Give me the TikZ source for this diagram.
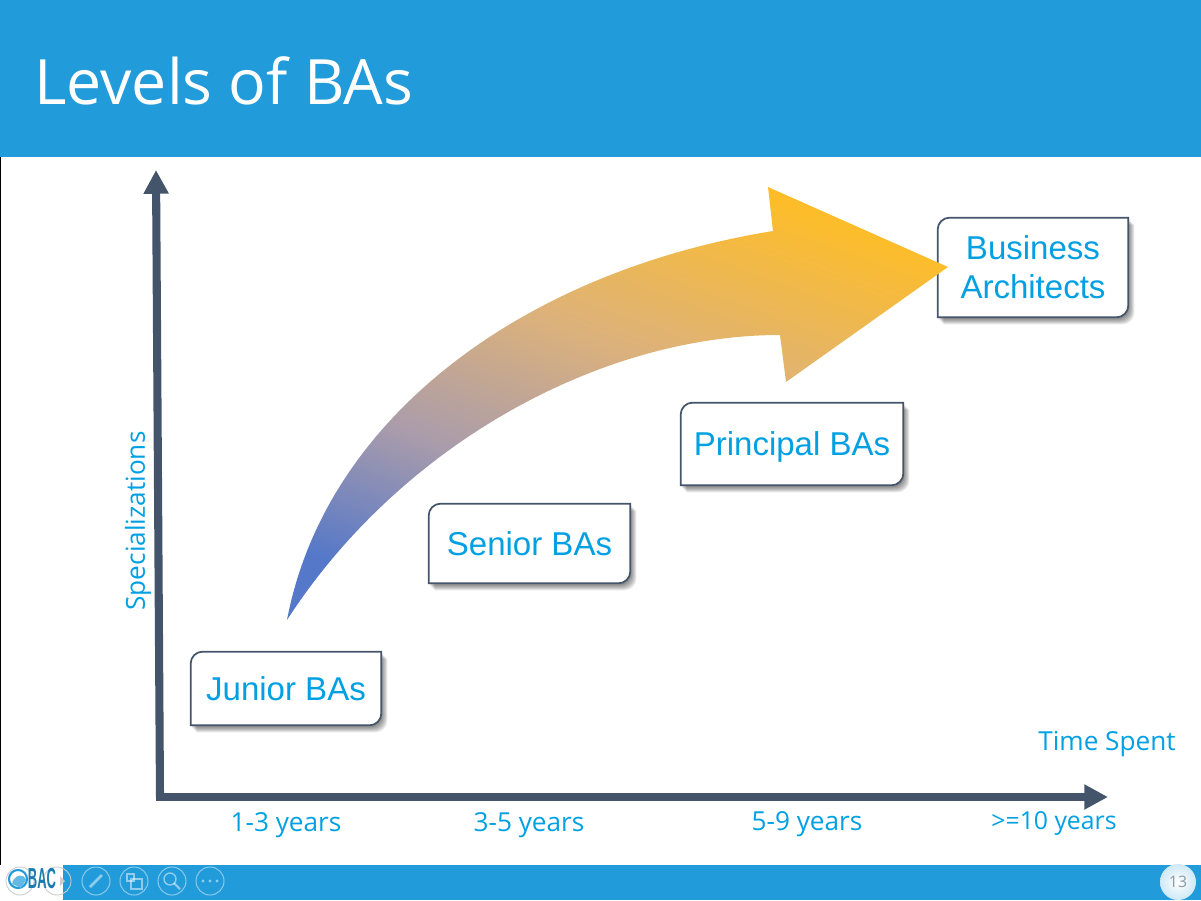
\documentclass[tikz,border=0pt]{standalone}
\usepackage{fontspec}
\setmainfont{Liberation Sans}
\newfontfamily\opensans{Open Sans}
\usetikzlibrary{arrows.meta, backgrounds}

\definecolor{barblue}{HTML}{219BD9}
\definecolor{textblue}{HTML}{00A0E3}
\definecolor{slate}{HTML}{44546A}
\definecolor{arrowblue}{HTML}{5578C8}
\definecolor{arrowmauve}{HTML}{AA9CAB}
\definecolor{arrowtan}{HTML}{DDB27A}
\definecolor{arrowgold}{HTML}{FDBD2A}

\pgfdeclareverticalshading{arrowfade}{100bp}{
    color(0bp)=(arrowblue); color(25bp)=(arrowblue); color(40bp)=(arrowmauve);
    color(56bp)=(arrowtan); color(75bp)=(arrowgold); color(100bp)=(arrowgold)}

% outline and soft shadow behind a box node
\newcommand{\cutpath}[1]{(#1.west) [rounded corners=6.8pt] |- (#1.north) [sharp corners] -| (#1.east) [rounded corners=6.8pt] |- (#1.south) [sharp corners] -| (#1.west) -- cycle}
\newcommand{\boxoutline}[1]{
    \begin{scope}[on background layer]
        \foreach \s in {7,6,5,4,3,2} {
            \fill[black, opacity=0.09, transform canvas={xshift=\s*0.02cm-0.02cm, yshift=-\s*0.02cm}] \cutpath{#1};
        }
        \draw[boxline] \cutpath{#1};
    \end{scope}
}

\begin{document}
\begin{tikzpicture}[
    x=0.02cm, y=-0.02cm,
    box/.style={inner sep=0pt, text=textblue, align=center, text depth=0pt, font=\fontsize{18.8}{22.2}\selectfont},
    boxline/.style={draw=slate, line width=1pt, fill=white},
    axis/.style={draw=slate, line width=4.6pt, -{Triangle[length=13.5pt, width=13.5pt]}},
    years/.style={text=textblue, font=\opensans\fontsize{14.9}{16}\selectfont},
    tool/.style={draw=white, opacity=0.45, line width=0.6pt}
]
    \useasboundingbox (0,0) rectangle (1201,900);

    % --- Header and footer bars ---
    \fill[barblue] (0,0) rectangle (1201,157);
    \fill[barblue] (63,865) rectangle (1201,900);
    \draw[black, line width=0.6pt] (0.5,157) -- (0.5,865);
    \node[anchor=base west, inner sep=0pt, text=white, font=\opensans\fontsize{35.6}{40}\selectfont] (title) at (34,104) {Levels of BAs};

    % --- Axes ---
    \coordinate (origin) at (160,797);
    \coordinate (ytop) at (156,170);
    \coordinate (xend) at (1108,797);
    \draw[axis] (origin) -- (ytop);
    \draw[axis] (156,797) -- (xend);

    % --- Levels ---
    \node[box, minimum width=3.8cm, minimum height=1.46cm] (junior) at (286,688.5) {Junior BAs};
    \node[box, minimum width=4.02cm, minimum height=1.58cm] (senior) at (529.5,543.5) {Senior BAs};
    \node[box, minimum width=4.44cm, minimum height=1.64cm] (principal) at (792,444) {Principal BAs};
    \node[box, minimum width=3.8cm, minimum height=1.98cm] (business) at (1033,267.5) {Business\\Architects};
    \boxoutline{junior}
    \boxoutline{senior}
    \boxoutline{principal}
    \boxoutline{business}

    % --- Growth arrow ---
    \shade[shading=arrowfade, shading angle=-20]
        (287,620) .. controls (325,420) and (520,272) .. (773,231)
        -- (768,187) -- (948,267) -- (786,382) -- (780,335)
        .. controls (600,335) and (400,445) .. (287,620) -- cycle;

    % --- Axis labels ---
    \node[years, rotate=90] (ylabel) at (138,521) {Specializations};
    \node[years] (xlabel) at (1107,744) {Time Spent};
    \node[years] (y1) at (286,825) {1-3 years};
    \node[years] (y2) at (529,825) {3-5 years};
    \node[years] (y3) at (807,824) {5-9 years};
    \node[years, font=\opensans\fontsize{14.1}{16}\selectfont] (y4) at (1054,823) {>=10 years};

    % --- Slide controls ---
    \draw[gray!40, line width=0.5pt] (20,881) circle (14);
    \draw[gray!40, line width=0.5pt] (57,881) circle (14);
    \fill[gray!40] (60,876) -- (65,881) -- (60,886) -- cycle;
    \fill[gray!40] (17,876) -- (12,881) -- (17,886) -- cycle;
    \draw[barblue, line width=1.2pt] (18,879) circle (9);
    \fill[barblue!70] (12,884) .. controls (15,874) and (24,873) .. (26,880) -- (21,888) -- cycle;
    \node[inner sep=0pt, text=barblue!80!black] (logo) at (42,879) {\resizebox{16pt}{11.5pt}{\bfseries BAC}};
    \foreach \x in {96,134,172,210} {
        \draw[tool] (\x,881) circle (14);
    }
    \draw[white, opacity=0.5, line width=1.6pt] (90,887) -- (102,875);
    \draw[white, opacity=0.5, line width=0.8pt] (127,874) rectangle (134,881);
    \draw[white, opacity=0.5, line width=0.8pt] (131,879) rectangle (142,889);
    \draw[white, opacity=0.5, line width=0.8pt] (170,879) circle (6);
    \draw[white, opacity=0.5, line width=1.2pt] (174,883) -- (180,889);
    \foreach \x in {203,210,217} {
        \fill[white, opacity=0.5] (\x,881) circle (1.6);
    }

    % --- Page number ---
    \shade[inner color=white, outer color=white!78!barblue] (1178,882) circle (18);
    \node[text=slate!60, font=\opensans\fontsize{9}{10}\selectfont] (page) at (1178,882) {13};
\end{tikzpicture}
\end{document}
